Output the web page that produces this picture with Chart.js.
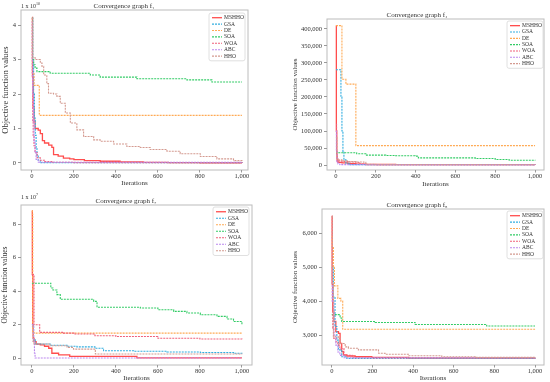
<!DOCTYPE html>
<html>
<head>
<meta charset="utf-8">
<script src="https://cdn.jsdelivr.net/npm/chart.js@4.4.0/dist/chart.umd.min.js"></script>
<style>
  body { margin: 0; background: #fff; width: 550px; height: 382px; position: relative; overflow: hidden; }
  canvas { position: absolute; }
  .exp { position: absolute; font: 6px "Liberation Serif", serif; color: #333; }
  .exp sup { font-size: 4px; }
</style>
</head>
<body>
<canvas id="c1" width="275" height="190" style="left:0;top:0"></canvas>
<canvas id="c2" width="260" height="190" style="left:290px;top:0"></canvas>
<canvas id="c3" width="275" height="192" style="left:0;top:190px"></canvas>
<canvas id="c4" width="260" height="192" style="left:290px;top:190px"></canvas>
<div class="exp" style="left:21px;top:1px">1 x 10<sup>10</sup></div>
<div class="exp" style="left:21px;top:192px">1 x 10<sup>7</sup></div>
<script>
// series names, in legend order
const seriesNames = ['MSHHO', 'GSA', 'DE', 'SOA', 'WOA', 'ABC', 'HHO'];
const xTicks = [0, 200, 400, 600, 800, 1000];

// f1, values in units of 1e10, [iteration, value]
const yTicks1 = [0, 1, 2, 3, 4];
const f1MSHHO = [[0,4.22],[3,2.5],[6,1.6],[10,1.2],[15,1.0],[30,0.95],[40,0.85],[50,0.65],[60,0.58],[80,0.52],[95,0.45],[103,0.24],[125,0.2],[150,0.14],[180,0.12],[200,0.1],[250,0.07],[325,0.05],[420,0.03],[530,0.02],[650,0.01],[800,0.005],[1000,0.003]];
const f1GSA = [[0,4.2],[4,3.0],[8,2.0],[12,1.3],[16,0.8],[20,0.45],[24,0.2],[30,0.08],[40,0.01],[1000,0]];
const f1DE = [[0,4.2],[2,2.62],[10,2.25],[35,1.42],[40,1.38],[1000,1.38]];
const f1SOA = [[0,4.2],[3,3.0],[8,2.85],[15,2.75],[24,2.65],[87,2.6],[278,2.55],[325,2.49],[500,2.44],[738,2.41],[857,2.35],[1000,2.35]];
const f1WOA = [[0,4.2],[2,2.5],[4,1.2],[6,0.8],[10,0.5],[15,0.3],[25,0.15],[40,0.08],[60,0.04],[100,0.02],[200,0.01],[1000,0]];
const f1ABC = [[0,4.1],[2,3.0],[4,2.0],[7,1.2],[10,0.6],[15,0.3],[20,0.1],[30,0.02],[1000,0]];
const f1HHO = [[0,4.2],[3,3.05],[16,3.0],[40,2.9],[48,2.8],[56,2.55],[71,2.3],[79,2.02],[103,2.0],[119,1.93],[135,1.73],[159,1.45],[183,1.16],[214,0.96],[246,0.77],[294,0.67],[325,0.63],[389,0.55],[452,0.48],[516,0.45],[563,0.39],[643,0.34],[706,0.27],[802,0.19],[881,0.12],[960,0.07],[1000,0.03]];

// f4
const yTicks2 = [0, 50000, 100000, 150000, 200000, 250000, 300000, 350000, 400000];
const f4MSHHO = [[0,410000],[2,100000],[4,30000],[6,12000],[10,8000],[30,6000],[60,4000],[100,2500],[150,1500],[300,1000],[1000,500]];
const f4GSA = [[0,280000],[20,280000],[25,200000],[30,100000],[35,40000],[40,15000],[50,5000],[70,1000],[1000,0]];
const f4DE = [[0,410000],[28,410000],[30,252000],[50,238000],[100,57000],[1000,57000]];
const f4SOA = [[0,38000],[5,36000],[104,33000],[150,29000],[250,28000],[300,27000],[397,26000],[414,21000],[700,19000],[800,16000],[870,14000],[1000,13000]];
const f4WOA = [[0,120000],[3,40000],[5,20000],[10,12000],[30,10000],[60,9000],[100,7000],[120,3000],[150,1500],[200,800],[1000,300]];
const f4ABC = [[0,100000],[2,40000],[5,10000],[10,3000],[20,1000],[1000,200]];
const f4HHO = [[0,80000],[5,15000],[30,12000],[60,10000],[100,9000],[140,8000],[150,2000],[200,1500],[1000,1000]];

// f7, values in units of 1e7
const yTicks3 = [0, 2, 4, 6, 8];
const f7MSHHO = [[0,8.8],[2,5.0],[4,2.0],[6,1.2],[10,1.0],[20,0.85],[40,0.8],[60,0.72],[80,0.6],[95,0.3],[127,0.2],[180,0.12],[500,0.03],[1000,0.03]];
const f7GSA = [[0,2.0],[8,1.1],[16,0.85],[87,0.78],[167,0.72],[214,0.68],[300,0.6],[341,0.45],[484,0.42],[643,0.38],[802,0.35],[960,0.3],[1000,0.28]];
const f7DE = [[0,8.8],[2,8.6],[4,1.6],[10,1.5],[1000,1.5]];
const f7SOA = [[0,4.48],[87,4.48],[90,4.2],[100,4.08],[119,3.8],[135,3.52],[294,3.4],[310,3.05],[516,3.0],[600,2.9],[675,2.8],[738,2.7],[802,2.6],[881,2.5],[929,2.35],[960,2.2],[1000,1.97]];
const f7WOA = [[0,5.0],[8,5.0],[10,2.0],[37,1.55],[150,1.5],[200,1.45],[300,1.35],[400,1.3],[600,1.2],[800,1.15],[1000,1.13]];
const f7ABC = [[0,2.0],[5,1.9],[8,1.0],[12,0.3],[15,0.02],[1000,0.02]];
const f7HHO = [[0,1.9],[5,1.0],[10,0.85],[87,0.75],[167,0.65],[198,0.55],[302,0.26],[1000,0.24]];

// f8
const yTicks4 = [3000, 4000, 5000, 6000];
const f8MSHHO = [[0,6500],[2,4500],[5,3700],[10,3400],[20,3100],[33,3050],[41,2750],[49,2510],[57,2410],[74,2380],[115,2360],[197,2340],[377,2320],[1000,2310]];
const f8GSA = [[0,5000],[3,5000],[8,4130],[16,3250],[25,2850],[33,2560],[49,2360],[74,2310],[1000,2300]];
const f8DE = [[0,5900],[3,5600],[8,5000],[13,4450],[30,4080],[45,4000],[54,3170],[1000,3170]];
const f8SOA = [[0,3600],[41,3500],[49,3400],[213,3370],[410,3310],[762,3265],[1000,3265]];
const f8WOA = [[0,6500],[3,4000],[5,3200],[10,2900],[20,2800],[30,2700],[40,2600],[60,2400],[100,2330],[200,2320],[1000,2310]];
const f8ABC = [[0,4900],[3,4000],[10,3000],[20,2700],[30,2500],[40,2400],[60,2330],[1000,2310]];
const f8HHO = [[0,6500],[3,4500],[8,2950],[33,2900],[41,2750],[66,2650],[82,2610],[131,2560],[230,2460],[262,2430],[377,2390],[541,2360],[705,2340],[1000,2320]];

const colors = ['#ff4d4d', '#33aee0', '#ffaa55', '#33cc66', '#f0607a', '#bb88ee', '#d49a90'];
const SERIF = '"Liberation Serif", "DejaVu Serif", serif';

// matplotlib-style frame round the plot area
const framePlugin = {
  id: 'frame',
  beforeDraw(chart) {
    const a = chart.chartArea, ctx = chart.ctx;
    ctx.save();
    ctx.strokeStyle = '#bcbcbc';
    ctx.lineWidth = 1;
    ctx.strokeRect(a.left, a.top, a.right - a.left, a.bottom - a.top);
    ctx.restore();
  }
};

// framed legend drawn inside the upper right of the plot
const boxLegend = {
  id: 'boxLegend',
  afterDatasetsDraw(chart, args, opts) {
    const ctx = chart.ctx, a = chart.chartArea;
    const sets = chart.data.datasets;
    const w = opts.width, rowH = opts.rowHeight;
    const h = sets.length * rowH + 3;
    const x = a.right - opts.right - w, y = a.top + opts.top;
    ctx.save();
    ctx.fillStyle = 'rgba(255,255,255,0.85)';
    ctx.strokeStyle = '#d8d8d8';
    ctx.lineWidth = 0.8;
    ctx.beginPath();
    ctx.roundRect(x, y, w, h, 2);
    ctx.fill();
    ctx.stroke();
    ctx.font = opts.fontSize + 'px ' + SERIF;
    ctx.textBaseline = 'middle';
    sets.forEach((ds, i) => {
      const cy = y + 1.5 + rowH * (i + 0.5);
      ctx.strokeStyle = ds.borderColor;
      ctx.lineWidth = ds.borderWidth;
      ctx.setLineDash(ds.borderDash || []);
      ctx.beginPath();
      ctx.moveTo(x + 3, cy);
      ctx.lineTo(x + 13, cy);
      ctx.stroke();
      ctx.setLineDash([]);
      ctx.fillStyle = '#333';
      ctx.fillText(ds.label, x + 15, cy);
    });
    ctx.restore();
  }
};

function makeChart(id, o) {
  const datasets = o.series.map((pts, i) => ({
    label: seriesNames[i],
    data: pts.map(([x, y]) => ({ x, y })),
    borderColor: colors[i],
    borderWidth: i === 0 ? 1.3 : 1.1,
    borderDash: i === 0 ? [] : [2, 1],
    stepped: true,
    pointRadius: 0,
    fill: false,
    order: 7 - i,
  }));
  new Chart(document.getElementById(id), {
    type: 'line',
    data: { datasets },
    plugins: [framePlugin, boxLegend],
    options: {
      responsive: false,
      animation: false,
      devicePixelRatio: 1,
      layout: { padding: o.pad },
      plugins: {
        legend: { display: false },
        tooltip: { enabled: false },
        title: {
          display: true,
          text: o.title,
          color: '#333',
          font: { family: SERIF, size: 7, weight: 'normal' },
          padding: 0,
        },
        boxLegend: o.legend,
      },
      scales: {
        x: {
          type: 'linear',
          min: o.xMin,
          max: o.xMax,
          afterBuildTicks: (ax) => { ax.ticks = xTicks.map((v) => ({ value: v })); },
          afterFit: (ax) => { ax.height = o.xH; },
          grid: { display: true, drawOnChartArea: false, drawTicks: true, tickLength: 2.5, color: '#999' },
          border: { display: false },
          ticks: { color: '#333', font: { family: SERIF, size: 6.5 }, padding: 0, maxRotation: 0 },
          title: { display: true, text: 'Iterations', color: '#333', font: { family: SERIF, size: 7 }, padding: 0 },
        },
        y: {
          type: 'linear',
          min: o.yMin,
          max: o.yMax,
          afterBuildTicks: (ax) => { ax.ticks = o.yTicks.map((v) => ({ value: v })); },
          afterFit: (ax) => { ax.width = o.yW; },
          grid: { display: true, drawOnChartArea: false, drawTicks: true, tickLength: 3, color: '#999' },
          border: { display: false },
          ticks: {
            color: '#333',
            font: { family: SERIF, size: 6.5 },
            padding: 2,
            callback: (v) => (o.comma ? v.toLocaleString('en-US') : String(v)),
          },
          title: { display: true, text: 'Objective function values', color: '#333', font: { family: SERIF, size: o.yTitleSize }, padding: { top: 1, bottom: 0 } },
        },
      },
    },
  });
}

makeChart('c1', {
  series: [f1MSHHO, f1GSA, f1DE, f1SOA, f1WOA, f1ABC, f1HHO],
  title: 'Convergence graph f\u2081',
  xMin: -52, xMax: 1029, yMin: -0.203, yMax: 4.435, yTicks: yTicks1, comma: false,
  pad: { top: 1.6, right: 27, bottom: 3, left: 0 }, xH: 17, yW: 21, yTitleSize: 8.5,
  legend: { width: 36, rowHeight: 6.4, fontSize: 5.5, right: 3, top: 3 },
});
makeChart('c2', {
  series: [f4MSHHO, f4GSA, f4DE, f4SOA, f4WOA, f4ABC, f4HHO],
  title: 'Convergence graph f\u2084',
  xMin: -45, xMax: 1045, yMin: -14700, yMax: 429400, yTicks: yTicks2, comma: true,
  pad: { top: 10.6, right: 6, bottom: 2, left: 0 }, xH: 18, yW: 37, yTitleSize: 7,
  legend: { width: 36, rowHeight: 6.33, fontSize: 5.5, right: 1, top: 2 },
});
makeChart('c3', {
  series: [f7MSHHO, f7GSA, f7DE, f7SOA, f7WOA, f7ABC, f7HHO],
  title: 'Convergence graph f\u2087',
  xMin: -52, xMax: 1048, yMin: -0.4, yMax: 9.15, yTicks: yTicks3, comma: false,
  pad: { top: 6.6, right: 23, bottom: 0, left: 0 }, xH: 17, yW: 21, yTitleSize: 7.5,
  legend: { width: 36, rowHeight: 6.5, fontSize: 5.5, right: 3, top: 2 },
});
makeChart('c4', {
  series: [f8MSHHO, f8GSA, f8DE, f8SOA, f8WOA, f8ABC, f8HHO],
  title: 'Convergence graph f\u2088',
  xMin: -48, xMax: 1044, yMin: 2115, yMax: 6717, yTicks: yTicks4, comma: true,
  pad: { top: 10.6, right: 6, bottom: 0, left: 0 }, xH: 17, yW: 32, yTitleSize: 7,
  legend: { width: 36, rowHeight: 6.4, fontSize: 5.5, right: 1, top: 2 },
});
</script>
</body>
</html>
